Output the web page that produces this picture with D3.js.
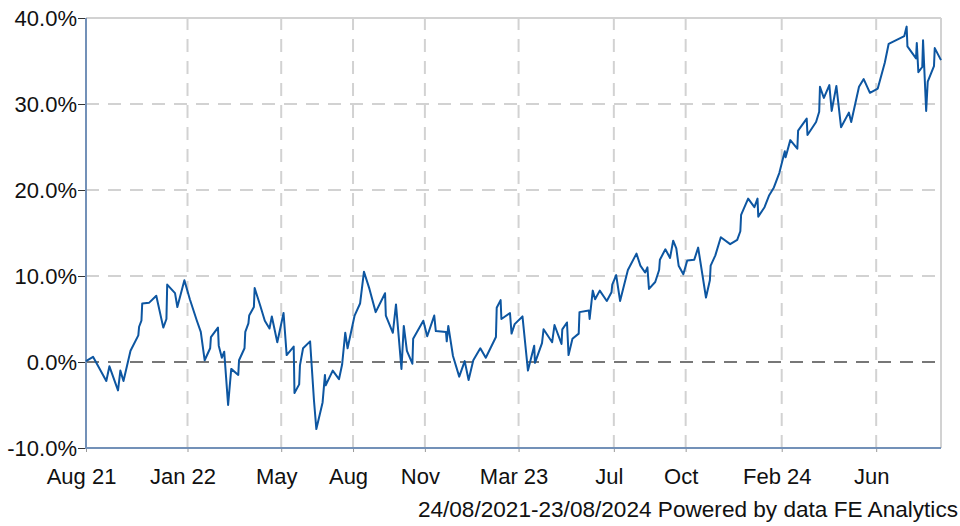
<!DOCTYPE html>
<html>
<head>
<meta charset="utf-8">
<script src="https://cdn.jsdelivr.net/npm/d3@7"></script>
<style>
  html, body { margin: 0; padding: 0; background: #ffffff; }
  svg { display: block; font-family: "Liberation Sans", Arial, sans-serif; }
</style>
</head>
<body>
<svg id="chart" width="960" height="526"></svg>
<script>
// ---- Data ----
const dates = [
  "2021-08-24","2021-09-02","2021-09-19","2021-09-23","2021-10-04","2021-10-07","2021-10-11","2021-10-20","2021-10-30","2021-10-31",
  "2021-11-03","2021-11-04","2021-11-13","2021-11-22","2021-12-01","2021-12-05","2021-12-06","2021-12-16","2021-12-19","2021-12-28",
  "2022-01-04","2022-01-13","2022-01-18","2022-01-23","2022-01-30","2022-01-31","2022-02-09","2022-02-10","2022-02-14","2022-02-17",
  "2022-02-22","2022-02-26","2022-03-07","2022-03-08","2022-03-15","2022-03-16","2022-03-20","2022-03-21","2022-03-27","2022-03-28",
  "2022-04-04","2022-04-10","2022-04-16","2022-04-19","2022-04-26","2022-05-04","2022-05-08","2022-05-17","2022-05-18","2022-05-24",
  "2022-05-25","2022-05-29","2022-06-07","2022-06-12","2022-06-15","2022-06-23","2022-06-26","2022-06-27","2022-07-06","2022-07-14",
  "2022-07-18","2022-07-22","2022-07-25","2022-08-03","2022-08-10","2022-08-15","2022-08-22","2022-08-30","2022-09-11","2022-09-12",
  "2022-09-21","2022-09-25","2022-10-02","2022-10-05","2022-10-09","2022-10-16","2022-10-17","2022-10-30","2022-11-04","2022-11-13",
  "2022-11-15","2022-11-28","2022-11-29","2022-12-01","2022-12-07","2022-12-15","2022-12-22","2022-12-27","2023-01-02","2023-01-11",
  "2023-01-18","2023-01-31","2023-02-01","2023-02-06","2023-02-07","2023-02-18","2023-02-20","2023-02-24","2023-03-06","2023-03-13",
  "2023-03-21","2023-03-22","2023-03-31","2023-04-02","2023-04-13","2023-04-16","2023-04-25","2023-04-26","2023-05-02","2023-05-04",
  "2023-05-09","2023-05-17","2023-05-18","2023-05-30","2023-05-31","2023-06-04","2023-06-07","2023-06-13","2023-06-22","2023-06-28",
  "2023-06-29","2023-07-04","2023-07-09","2023-07-19","2023-07-30","2023-08-04","2023-08-10","2023-08-13","2023-08-15","2023-08-23",
  "2023-08-28","2023-08-29","2023-09-05","2023-09-11","2023-09-15","2023-09-19","2023-09-22","2023-09-28","2023-10-03","2023-10-12",
  "2023-10-17","2023-10-27","2023-11-01","2023-11-02","2023-11-08","2023-11-15","2023-11-27","2023-12-06","2023-12-10","2023-12-11",
  "2023-12-20","2023-12-28","2024-01-01","2024-01-02","2024-01-10","2024-01-16","2024-01-22","2024-01-29","2024-02-03","2024-02-05",
  "2024-02-06","2024-02-12","2024-02-21","2024-02-22","2024-03-04","2024-03-05","2024-03-16","2024-03-20","2024-03-21","2024-03-26",
  "2024-04-02","2024-04-05","2024-04-11","2024-04-17","2024-04-27","2024-04-30","2024-05-10","2024-05-16","2024-05-24","2024-06-03",
  "2024-06-12","2024-06-17","2024-07-07","2024-07-10","2024-07-11","2024-07-22","2024-07-23","2024-07-25","2024-07-30","2024-07-31",
  "2024-08-04","2024-08-06","2024-08-14","2024-08-15","2024-08-23"
];
const values = [
  0.1, 0.6, -2.2, -0.5, -3.3, -1.0, -2.2, 1.3, 3.1, 4.1,
  4.8, 6.8, 6.9, 7.7, 4.0, 5.0, 9.0, 8.0, 6.4, 9.5,
  7.3, 4.8, 3.5, 0.2, 1.6, 2.9, 4.0, 1.9, 0.5, 1.2,
  -5.0, -0.8, -1.5, 0.2, 1.6, 3.5, 4.5, 5.4, 6.4, 8.6,
  6.6, 4.8, 3.9, 5.3, 2.3, 5.7, 0.8, 1.8, -3.6, -2.6,
  -0.4, 1.6, 2.4, -4.5, -7.8, -4.7, -1.5, -2.7, -1.0, -2.0,
  -0.3, 3.4, 1.6, 5.4, 6.8, 10.5, 8.5, 5.8, 8.0, 5.4,
  3.4, 6.7, -0.8, 4.2, 1.3, -0.2, 2.7, 4.8, 3.0, 5.4,
  3.6, 3.5, 2.4, 4.2, 0.7, -1.7, 0.1, -2.1, 0.2, 1.6,
  0.5, 2.9, 6.3, 7.2, 5.0, 5.7, 3.3, 4.4, 5.3, -1.0,
  1.9, -0.1, 2.2, 3.8, 2.3, 4.3, 2.1, 3.8, 4.6, 0.8,
  2.7, 3.3, 5.8, 6.0, 5.0, 8.3, 7.3, 8.3, 7.1, 8.1,
  9.0, 10.1, 7.1, 10.7, 12.6, 11.2, 10.4, 11.0, 8.5, 9.3,
  10.7, 11.9, 13.1, 12.1, 14.1, 13.2, 11.2, 10.2, 11.8, 11.9,
  13.3, 7.5, 9.5, 11.2, 12.4, 14.5, 13.7, 14.2, 15.2, 17.1,
  19.0, 18.0, 19.0, 16.9, 18.0, 19.4, 20.3, 22.0, 23.8, 24.5,
  23.8, 25.8, 24.8, 26.9, 28.3, 26.4, 27.9, 29.1, 32.0, 30.7,
  32.2, 29.2, 32.1, 27.3, 29.0, 27.9, 32.0, 32.9, 31.3, 31.8,
  34.8, 37.0, 37.9, 39.0, 36.7, 35.3, 37.1, 33.7, 34.3, 37.4,
  29.2, 32.6, 34.4, 36.5, 35.1
];
const yTickValues = [-10, 0, 10, 20, 30, 40];
const xTickDates = ["2021-08-24","2022-01-01","2022-05-01","2022-08-01","2022-11-01","2023-03-01","2023-07-01","2023-10-01","2024-02-01","2024-06-01"];
const xTickLabels = ["Aug 21","Jan 22","May","Aug","Nov","Mar 23","Jul","Oct","Feb 24","Jun"];
const startDate = "2021-08-24";
const endDate = "2024-08-23";
const footerText = "24/08/2021-23/08/2024 Powered by data FE Analytics";

// ---- Layout ----
const W = 960, H = 526;
const margin = { top: 18, right: 19, bottom: 78, left: 86 };
const parse = d3.timeParse("%Y-%m-%d");
const data = dates.map((d, i) => ({ date: parse(d), value: values[i] }));

const x = d3.scaleTime()
  .domain([parse(startDate), parse(endDate)])
  .range([margin.left, W - margin.right]);
const y = d3.scaleLinear()
  .domain([-10, 40])
  .range([H - margin.bottom, margin.top]);

const svg = d3.select("#chart");
const FONT = 22;
const gridColor = "#d2d2d2";
const axisColor = "#7391b8";

// Horizontal grid lines (the top one is the border)
svg.append("g").selectAll("line")
  .data(yTickValues.filter(v => v !== -10 && v !== 40))
  .join("line")
  .attr("x1", x.range()[0]).attr("x2", x.range()[1])
  .attr("y1", d => y(d)).attr("y2", d => y(d))
  .attr("stroke", gridColor).attr("stroke-width", 2)
  .attr("stroke-dasharray", "13,9");

// Vertical grid lines
const xTicks = xTickDates.map(parse);
svg.append("g").selectAll("line")
  .data(xTicks.slice(1))
  .join("line")
  .attr("x1", d => x(d)).attr("x2", d => x(d))
  .attr("y1", y(-10)).attr("y2", y(40))
  .attr("stroke", gridColor).attr("stroke-width", 2)
  .attr("stroke-dasharray", "13,9");

// Top and right border
svg.append("line")
  .attr("x1", x.range()[0]).attr("x2", x.range()[1])
  .attr("y1", y(40)).attr("y2", y(40))
  .attr("stroke", gridColor).attr("stroke-width", 2);
svg.append("line")
  .attr("x1", x.range()[1]).attr("x2", x.range()[1])
  .attr("y1", y(40)).attr("y2", y(-10))
  .attr("stroke", gridColor).attr("stroke-width", 2);

// Zero line (dark dashed)
svg.append("line")
  .attr("x1", x.range()[0]).attr("x2", x.range()[1])
  .attr("y1", y(0)).attr("y2", y(0))
  .attr("stroke", "#5a5a5a").attr("stroke-width", 1.4)
  .attr("stroke-dasharray", "13,9");

// Y axis
const yAxis = svg.append("g")
  .attr("transform", `translate(${margin.left},0)`)
  .call(d3.axisLeft(y).tickValues(yTickValues)
    .tickFormat(d => d.toFixed(1) + "%")
    .tickSizeInner(8).tickSizeOuter(0).tickPadding(1));
yAxis.select(".domain").remove();
yAxis.selectAll(".tick line").attr("stroke", "#333").attr("stroke-width", 1);
yAxis.selectAll(".tick text")
  .attr("font-size", FONT).attr("fill", "#111")
  .attr("font-family", "'Liberation Sans', Arial, sans-serif");

// X axis
const xAxis = svg.append("g")
  .attr("transform", `translate(0,${H - margin.bottom})`)
  .call(d3.axisBottom(x).tickValues(xTicks)
    .tickFormat((d, i) => xTickLabels[i])
    .tickSizeInner(4).tickSizeOuter(0).tickPadding(16));
xAxis.select(".domain").remove();
xAxis.selectAll(".tick line").attr("stroke", "#999").attr("stroke-width", 1);
xAxis.selectAll(".tick text")
  .attr("font-size", FONT).attr("fill", "#111")
  .attr("dx", -5)
  .attr("font-family", "'Liberation Sans', Arial, sans-serif");

// Axis lines (left and bottom, steel blue)
svg.append("line")
  .attr("x1", x.range()[0]).attr("x2", x.range()[0])
  .attr("y1", y(40)).attr("y2", y(-10) + 1)
  .attr("stroke", axisColor).attr("stroke-width", 2);
svg.append("line")
  .attr("x1", x.range()[0]).attr("x2", x.range()[1])
  .attr("y1", y(-10)).attr("y2", y(-10))
  .attr("stroke", axisColor).attr("stroke-width", 2);

// Data line
const line = d3.line()
  .x(d => x(d.date))
  .y(d => y(d.value));
svg.append("path")
  .datum(data)
  .attr("d", line)
  .attr("fill", "none")
  .attr("stroke", "#0d56a1")
  .attr("stroke-width", 2)
  .attr("stroke-linejoin", "round");

// Footer
svg.append("text")
  .attr("x", 958).attr("y", 517)
  .attr("text-anchor", "end")
  .attr("font-size", 22.6).attr("fill", "#111")
  .attr("font-family", "'Liberation Sans', Arial, sans-serif")
  .text(footerText);
</script>
</body>
</html>
